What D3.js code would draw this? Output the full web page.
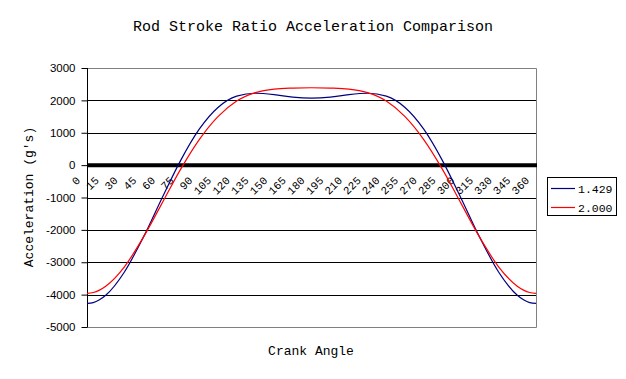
<!DOCTYPE html>
<html>
<head>
<meta charset="utf-8">
<script src="https://cdn.jsdelivr.net/npm/d3@7"></script>
<style>
  body { margin: 0; background: #fff; }
  svg { display: block; }
  .mono { font-family: "Liberation Mono", "Courier New", monospace; }
</style>
</head>
<body>
<svg id="chart" width="626" height="379"></svg>
<script>
// crank angles of the points (extra points near the ends where the curve flattens)
const angles = [0, 5, 10, 15, 30, 45, 60, 75, 90, 105, 120, 135, 150, 165, 180,
  195, 210, 225, 240, 255, 270, 285, 300, 315, 330, 345, 350, 355, 360];
// acceleration (g's)
const ratio1429 = [-4270, -4245, -4160, -4020, -3300, -2240, -1030, 140, 1110, 1780, 2130, 2220, 2180, 2100, 2070,
  2100, 2180, 2220, 2130, 1780, 1110, 140, -1030, -2240, -3300, -4020, -4160, -4245, -4270];
const ratio2000 = [-3960, -3935, -3860, -3740, -3140, -2240, -1190, -130, 790, 1500, 1980, 2240, 2350, 2380, 2390,
  2380, 2350, 2240, 1980, 1500, 790, -130, -1190, -2240, -3140, -3740, -3860, -3935, -3960];
// category labels along the zero line
const angleLabels = [0, 15, 30, 45, 60, 75, 90, 105, 120, 135, 150, 165, 180,
  195, 210, 225, 240, 255, 270, 285, 300, 315, 330, 345, 360];
const seriesNames = ['1.429', '2.000'];
const seriesColors = ['#000080', '#ff0000'];
const yTicks = [3000, 2000, 1000, 0, -1000, -2000, -3000, -4000, -5000];

const svg = d3.select('#chart');
const margin = { top: 68, left: 87, right: 536, bottom: 327 };

const x = d3.scaleLinear().domain([0, 360]).range([margin.left, margin.right]);
const y = d3.scaleLinear().domain([-5000, 3000]).range([margin.bottom, margin.top]);

// title
svg.append('text')
  .attr('class', 'mono')
  .attr('x', 313).attr('y', 31)
  .attr('text-anchor', 'middle')
  .style('font-size', '15px')
  .text('Rod Stroke Ratio Acceleration Comparison');

// gridlines
svg.append('g')
  .selectAll('line')
  .data(yTicks.filter(d => d !== 3000 && d !== -5000 && d !== 0))
  .join('line')
  .attr('x1', margin.left).attr('x2', margin.right)
  .attr('y1', d => Math.round(y(d)) + 0.5).attr('y2', d => Math.round(y(d)) + 0.5)
  .attr('stroke', '#000');

// plot border (grey) top, right, bottom
svg.append('path')
  .attr('d', `M${margin.left},${margin.top + 0.5}H${margin.right + 0.5}V${margin.bottom + 0.5}H${margin.left}`)
  .attr('fill', 'none')
  .attr('stroke', '#808080');

// y axis
const yAxis = svg.append('g')
  .attr('transform', `translate(${margin.left + 0.5},0)`)
  .call(d3.axisLeft(y).tickValues(yTicks).tickSize(6).tickPadding(6).tickFormat(d3.format('d')));
yAxis.select('.domain').attr('stroke', '#000').attr('d', `M0,${margin.top}V${margin.bottom}`);
yAxis.selectAll('.tick line').attr('stroke', '#000');
yAxis.selectAll('.tick text')
  .style('font-family', '"Liberation Sans", Arial, sans-serif')
  .style('font-size', '11.5px')
  .attr('fill', '#000')
  .text(d => d3.format('d')(d).replace('−', '-'));

// zero line (thick category axis)
svg.append('line')
  .attr('x1', margin.left).attr('x2', margin.right + 1)
  .attr('y1', y(0)).attr('y2', y(0))
  .attr('stroke', '#000').attr('stroke-width', 4);

// category labels, rotated, just under the zero line
svg.append('g')
  .selectAll('text')
  .data(angleLabels)
  .join('text')
  .attr('class', 'mono')
  .style('font-size', '11px')
  .attr('text-anchor', 'end')
  .attr('transform', d => `translate(${x(d) - 6},${y(0) + 16}) rotate(-45)`)
  .text(d => d);

// lines
const line = d3.line()
  .x((d, i) => x(angles[i]))
  .y(d => y(d))
  .curve(d3.curveMonotoneX);

[ratio1429, ratio2000].forEach((s, i) => {
  svg.append('path')
    .datum(s)
    .attr('fill', 'none')
    .attr('stroke', seriesColors[i])
    .attr('stroke-width', 1.2)
    .attr('d', line);
});

// axis titles
svg.append('text')
  .attr('class', 'mono')
  .attr('text-anchor', 'middle')
  .style('font-size', '13px')
  .attr('transform', `translate(33,197) rotate(-90)`)
  .text("Acceleration (g's)");

svg.append('text')
  .attr('class', 'mono')
  .attr('text-anchor', 'middle')
  .style('font-size', '13px')
  .attr('x', 311).attr('y', 355)
  .text('Crank Angle');

// legend
const legend = svg.append('g');
legend.append('rect')
  .attr('x', 547.5).attr('y', 177.5)
  .attr('width', 69).attr('height', 38)
  .attr('fill', '#fff').attr('stroke', '#000');
seriesNames.forEach((name, i) => {
  const ly = 188.5 + i * 19;
  legend.append('line')
    .attr('x1', 551).attr('x2', 575)
    .attr('y1', ly).attr('y2', ly)
    .attr('stroke', seriesColors[i]).attr('stroke-width', 1.2);
  legend.append('text')
    .attr('class', 'mono')
    .style('font-size', '11.5px')
    .attr('x', 578).attr('y', ly + 4)
    .text(name);
});
</script>
</body>
</html>
